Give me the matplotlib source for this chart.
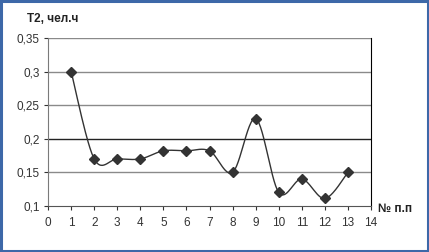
import matplotlib
matplotlib.use("Agg")
import matplotlib.pyplot as plt
import numpy as np
from matplotlib.patches import Rectangle

plt.rcParams['font.family'] = ['Liberation Sans', 'DejaVu Sans']

nums = [1, 2, 3, 4, 5, 6, 7, 8, 9, 10, 11, 12, 13]
t2 = [0.30, 0.17, 0.17, 0.17, 0.182, 0.182, 0.182, 0.15, 0.23, 0.12, 0.14, 0.111, 0.15]
yticks = [0.1, 0.15, 0.2, 0.25, 0.3, 0.35]
ylabels = ['0,1', '0,15', '0,2', '0,25', '0,3', '0,35']


def smooth(xs, ys, n=30):
    # excel-like smoothed line: catmull-rom as cubic bezier
    x = np.asarray(xs, float)
    y = np.asarray(ys, float)
    px = np.concatenate([[x[0]], x, [x[-1]]])
    py = np.concatenate([[y[0]], y, [y[-1]]])
    outx, outy = [], []
    t = np.linspace(0, 1, n)
    for i in range(1, len(px) - 2):
        p0 = np.array([px[i], py[i]])
        p3 = np.array([px[i + 1], py[i + 1]])
        c1 = p0 + (np.array([px[i + 1], py[i + 1]]) - np.array([px[i - 1], py[i - 1]])) / 6
        c2 = p3 - (np.array([px[i + 2], py[i + 2]]) - np.array([px[i], py[i]])) / 6
        b = ((1 - t) ** 3)[:, None] * p0 + (3 * (1 - t) ** 2 * t)[:, None] * c1 \
            + (3 * (1 - t) * t ** 2)[:, None] * c2 + (t ** 3)[:, None] * p3
        outx.extend(b[:, 0])
        outy.extend(b[:, 1])
    return outx, outy


fig = plt.figure(figsize=(4.29, 2.52), dpi=100)
fig.patch.set_facecolor('white')
fig.patches.append(Rectangle((0.003, 0.005), 0.994, 0.99, transform=fig.transFigure,
                             fill=False, edgecolor='#3d68a8', linewidth=2.2))

ax = fig.add_axes([0.112, 0.183, 0.753, 0.666])
ax.set_xlim(0, 14)
ax.set_ylim(0.1, 0.35)

for v in [0.15, 0.25, 0.3, 0.35]:
    ax.axhline(v, color='#8a8a8a', linewidth=1.0, zorder=1)
ax.axhline(0.2, color='#222222', linewidth=1.0, zorder=1)

sx, sy = smooth(nums, t2)
ax.plot(sx, sy, color='#333333', linewidth=1.0, zorder=3)
ax.plot(nums, t2, linestyle='none', marker='D', markersize=4.8, color='#333333', zorder=4)

ax.set_xticks(range(0, 15))
ax.set_yticks(yticks)
ax.set_yticklabels(ylabels)
ax.tick_params(labelsize=8.5, colors='#333333', length=3, width=0.8, direction='out')
ax.tick_params(axis='x', pad=5)
ax.tick_params(axis='y', pad=3)
ax.spines['top'].set_visible(False)
ax.spines['right'].set_color('black')
ax.spines['left'].set_color('#7a7a7a')
ax.spines['bottom'].set_color('#555555')

fig.text(0.063, 0.925, 'T2, чел.ч', fontsize=8.5, fontweight='bold', color='#222222',
         va='center', ha='left')
fig.text(0.88, 0.17, '№ п.п', fontsize=8.5, fontweight='bold', color='#222222',
         va='center', ha='left')

fig.savefig('out.png', dpi=100)
